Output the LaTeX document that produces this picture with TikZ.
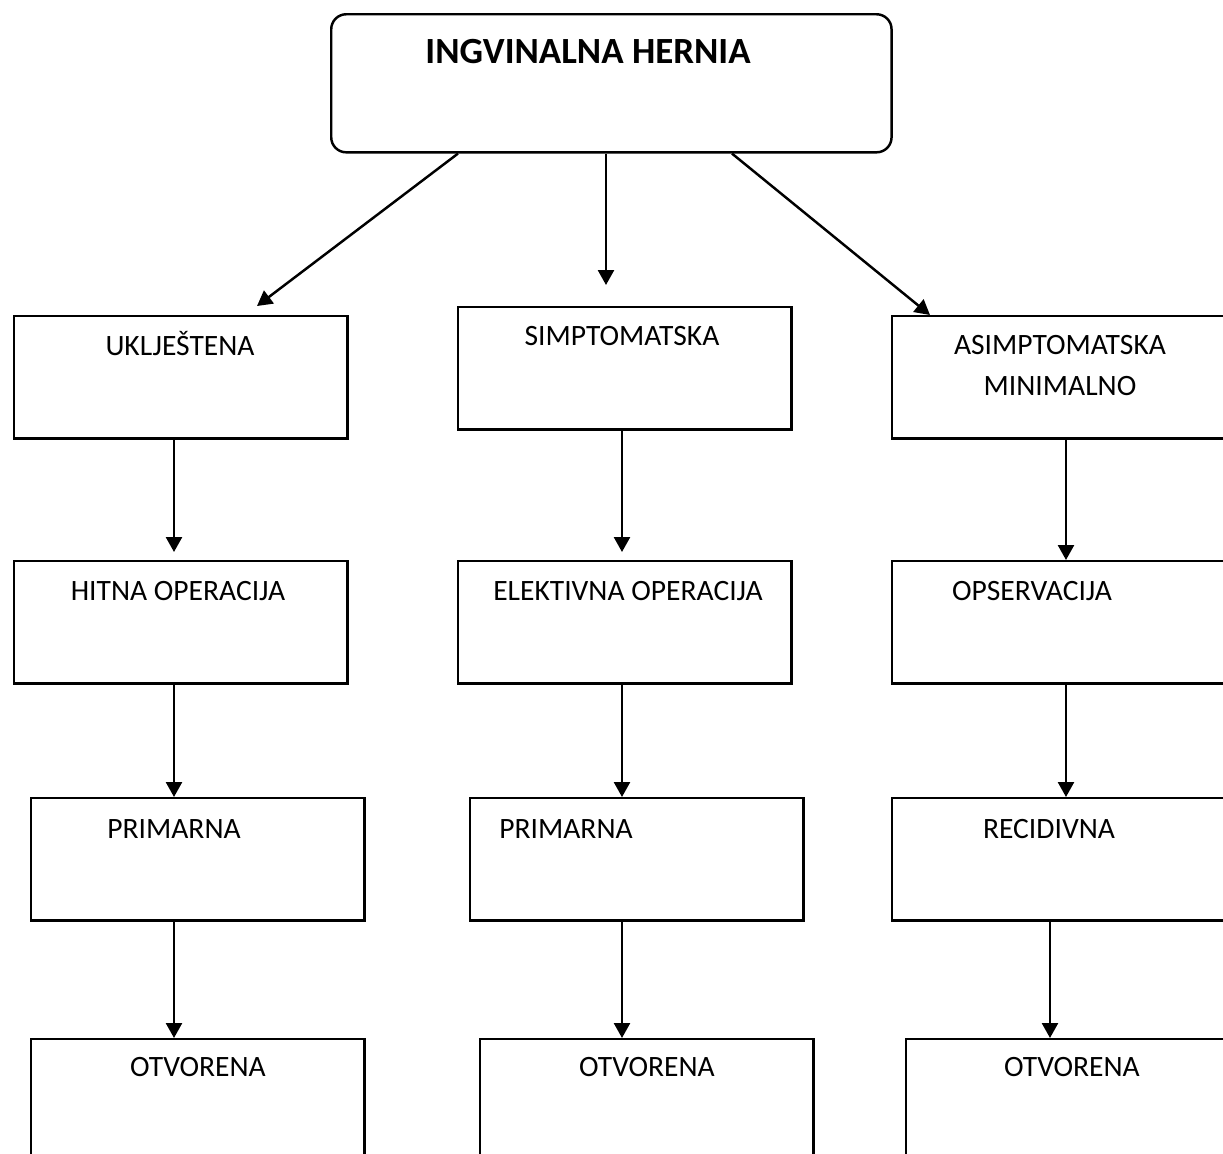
\documentclass[tikz,border=0pt]{standalone}
\usepackage{fontspec}
\setmainfont{Carlito}
\usetikzlibrary{arrows.meta,calc}

\begin{document}
\begin{tikzpicture}[
  x=0.01cm, y=-0.01cm,
  box/.style={draw, line width=0.7pt, anchor=north west, inner sep=0pt,
    minimum width=3.33cm, minimum height=1.22cm},
  txt/.style={anchor=base, inner sep=0pt, align=center,
    font=\fontsize{8.4}{11.4}\selectfont},
  link/.style={draw, ->, line width=0.7pt},
  >={Triangle[length=0.15cm,width=0.16cm]}
]
\useasboundingbox (0,0) rectangle (1223,1153);

% top
\node[box, rounded corners=0.15cm, minimum width=5.6cm, minimum height=1.38cm] (hernia) at (330,13) {};
\node[txt, font=\bfseries\fontsize{10.5}{12}\selectfont] (herniat) at (588,63) {INGVINALNA HERNIA};

% first row
\node[box] (uklj) at (13,315) {};
\node[txt] (ukljt) at (180,355) {UKLJEŠTENA};
\node[box] (simp) at (457,306) {};
\node[txt] (simpt) at (622,345) {SIMPTOMATSKA};
\node[box] (asimp) at (891,315) {};
\node[txt] (asimpt) at (1060,395) {ASIMPTOMATSKA\\MINIMALNO};

% second row
\node[box] (hitna) at (13,560) {};
\node[txt] (hitnat) at (178,600) {HITNA OPERACIJA};
\node[box] (elek) at (457,560) {};
\node[txt] (elekt) at (628,600) {ELEKTIVNA OPERACIJA};
\node[box] (opserv) at (891,560) {};
\node[txt] (opservt) at (1032,600) {OPSERVACIJA};

% third row
\node[box] (prim) at (30,797) {};
\node[txt] (primt) at (174,838) {PRIMARNA};
\node[box] (primb) at (469,797) {};
\node[txt] (primbt) at (566,838) {PRIMARNA};
\node[box] (recid) at (891,797) {};
\node[txt] (recidt) at (1049,838) {RECIDIVNA};

% last row
\node[box, minimum height=1.3cm] (otv) at (30,1038) {};
\node[txt] (otvt) at (198,1076) {OTVORENA};
\node[box, minimum height=1.3cm] (otvb) at (479,1038) {};
\node[txt] (otvbt) at (647,1076) {OTVORENA};
\node[box, minimum height=1.3cm] (otvc) at (905,1038) {};
\node[txt] (otvct) at (1072,1076) {OTVORENA};

% arrows
\draw[link] ($(hernia.south west)+(128,0)$) -- ($(uklj.north west)+(244,-9)$);
\draw[link] ($(hernia.south west)+(276,0)$) -- ($(simp.north west)+(149,-21)$);
\draw[link] ($(hernia.south west)+(402,0)$) -- ($(asimp.north west)+(39,0)$);

\draw[link] ($(uklj.south west)+(161,0)$) -- ($(hitna.north west)+(161,-8)$);
\draw[link] ($(simp.south west)+(165,0)$) -- ($(elek.north west)+(165,-8)$);
\draw[link] ($(asimp.south west)+(175,0)$) -- ($(opserv.north west)+(175,0)$);

\draw[link] ($(hitna.south west)+(161,0)$) -- ($(prim.north west)+(144,0)$);
\draw[link] ($(elek.south west)+(165,0)$) -- ($(primb.north west)+(153,0)$);
\draw[link] ($(opserv.south west)+(175,0)$) -- ($(recid.north west)+(175,0)$);

\draw[link] ($(prim.south west)+(144,0)$) -- ($(otv.north west)+(144,0)$);
\draw[link] ($(primb.south west)+(153,0)$) -- ($(otvb.north west)+(143,0)$);
\draw[link] ($(recid.south west)+(159,0)$) -- ($(otvc.north west)+(145,0)$);
\end{tikzpicture}
\end{document}
